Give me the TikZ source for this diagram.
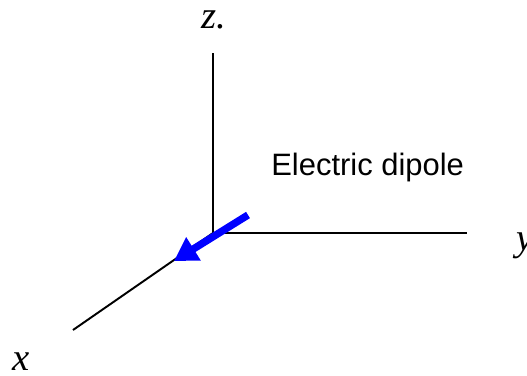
\documentclass[tikz,border=0pt]{standalone}
\usepackage{fontspec}
\setmainfont{Liberation Serif}
\setsansfont{Liberation Sans}
\usepackage{xcolor}
\usetikzlibrary{arrows.meta, positioning}
\definecolor{dipoleblue}{RGB}{0,0,255}

\begin{document}
\begin{tikzpicture}[>=Stealth]
  \tikzstyle{axis} = [draw=black, line width=1.1pt]
  \tikzstyle{axislabel} = [inner sep=0pt, anchor=base, font=\fontsize{22}{26}\selectfont\itshape]
  \tikzstyle{dipole} = [draw=dipoleblue, line width=4.2pt, -{Triangle[length=0.46cm, width=0.52cm]}]

  \useasboundingbox (-4.26, -2.84) rectangle (6.28, 4.66);

  % Axes
  \coordinate (origin) at (0, 0);
  \coordinate (zend) at (0, 3.6);
  \coordinate (yend) at (5.07, 0);
  \coordinate (xend) at (-2.8, -1.94);
  \draw[axis] (origin) -- (zend);
  \draw[axis] (origin) -- (yend);
  \draw[axis] (origin) -- (xend);

  % Axis labels
  \node [axislabel] (zlabel) at (0.02, 4.1) {z.};
  \node [axislabel] (ylabel) at (6.24, -0.34) {y};
  \node [axislabel] (xlabel) at (-3.84, -2.74) {x};

  % Dipole
  \coordinate (dtail) at (0.7, 0.36);
  \coordinate (dtip) at (-0.78, -0.56);
  \draw[dipole] (dtail) -- (dtip);
  \node [anchor=base west, inner sep=0pt, font=\sffamily\fontsize{17.6}{21}\selectfont] (dlabel) at (1.16, 1.16) {Electric dipole};
\end{tikzpicture}
\end{document}
